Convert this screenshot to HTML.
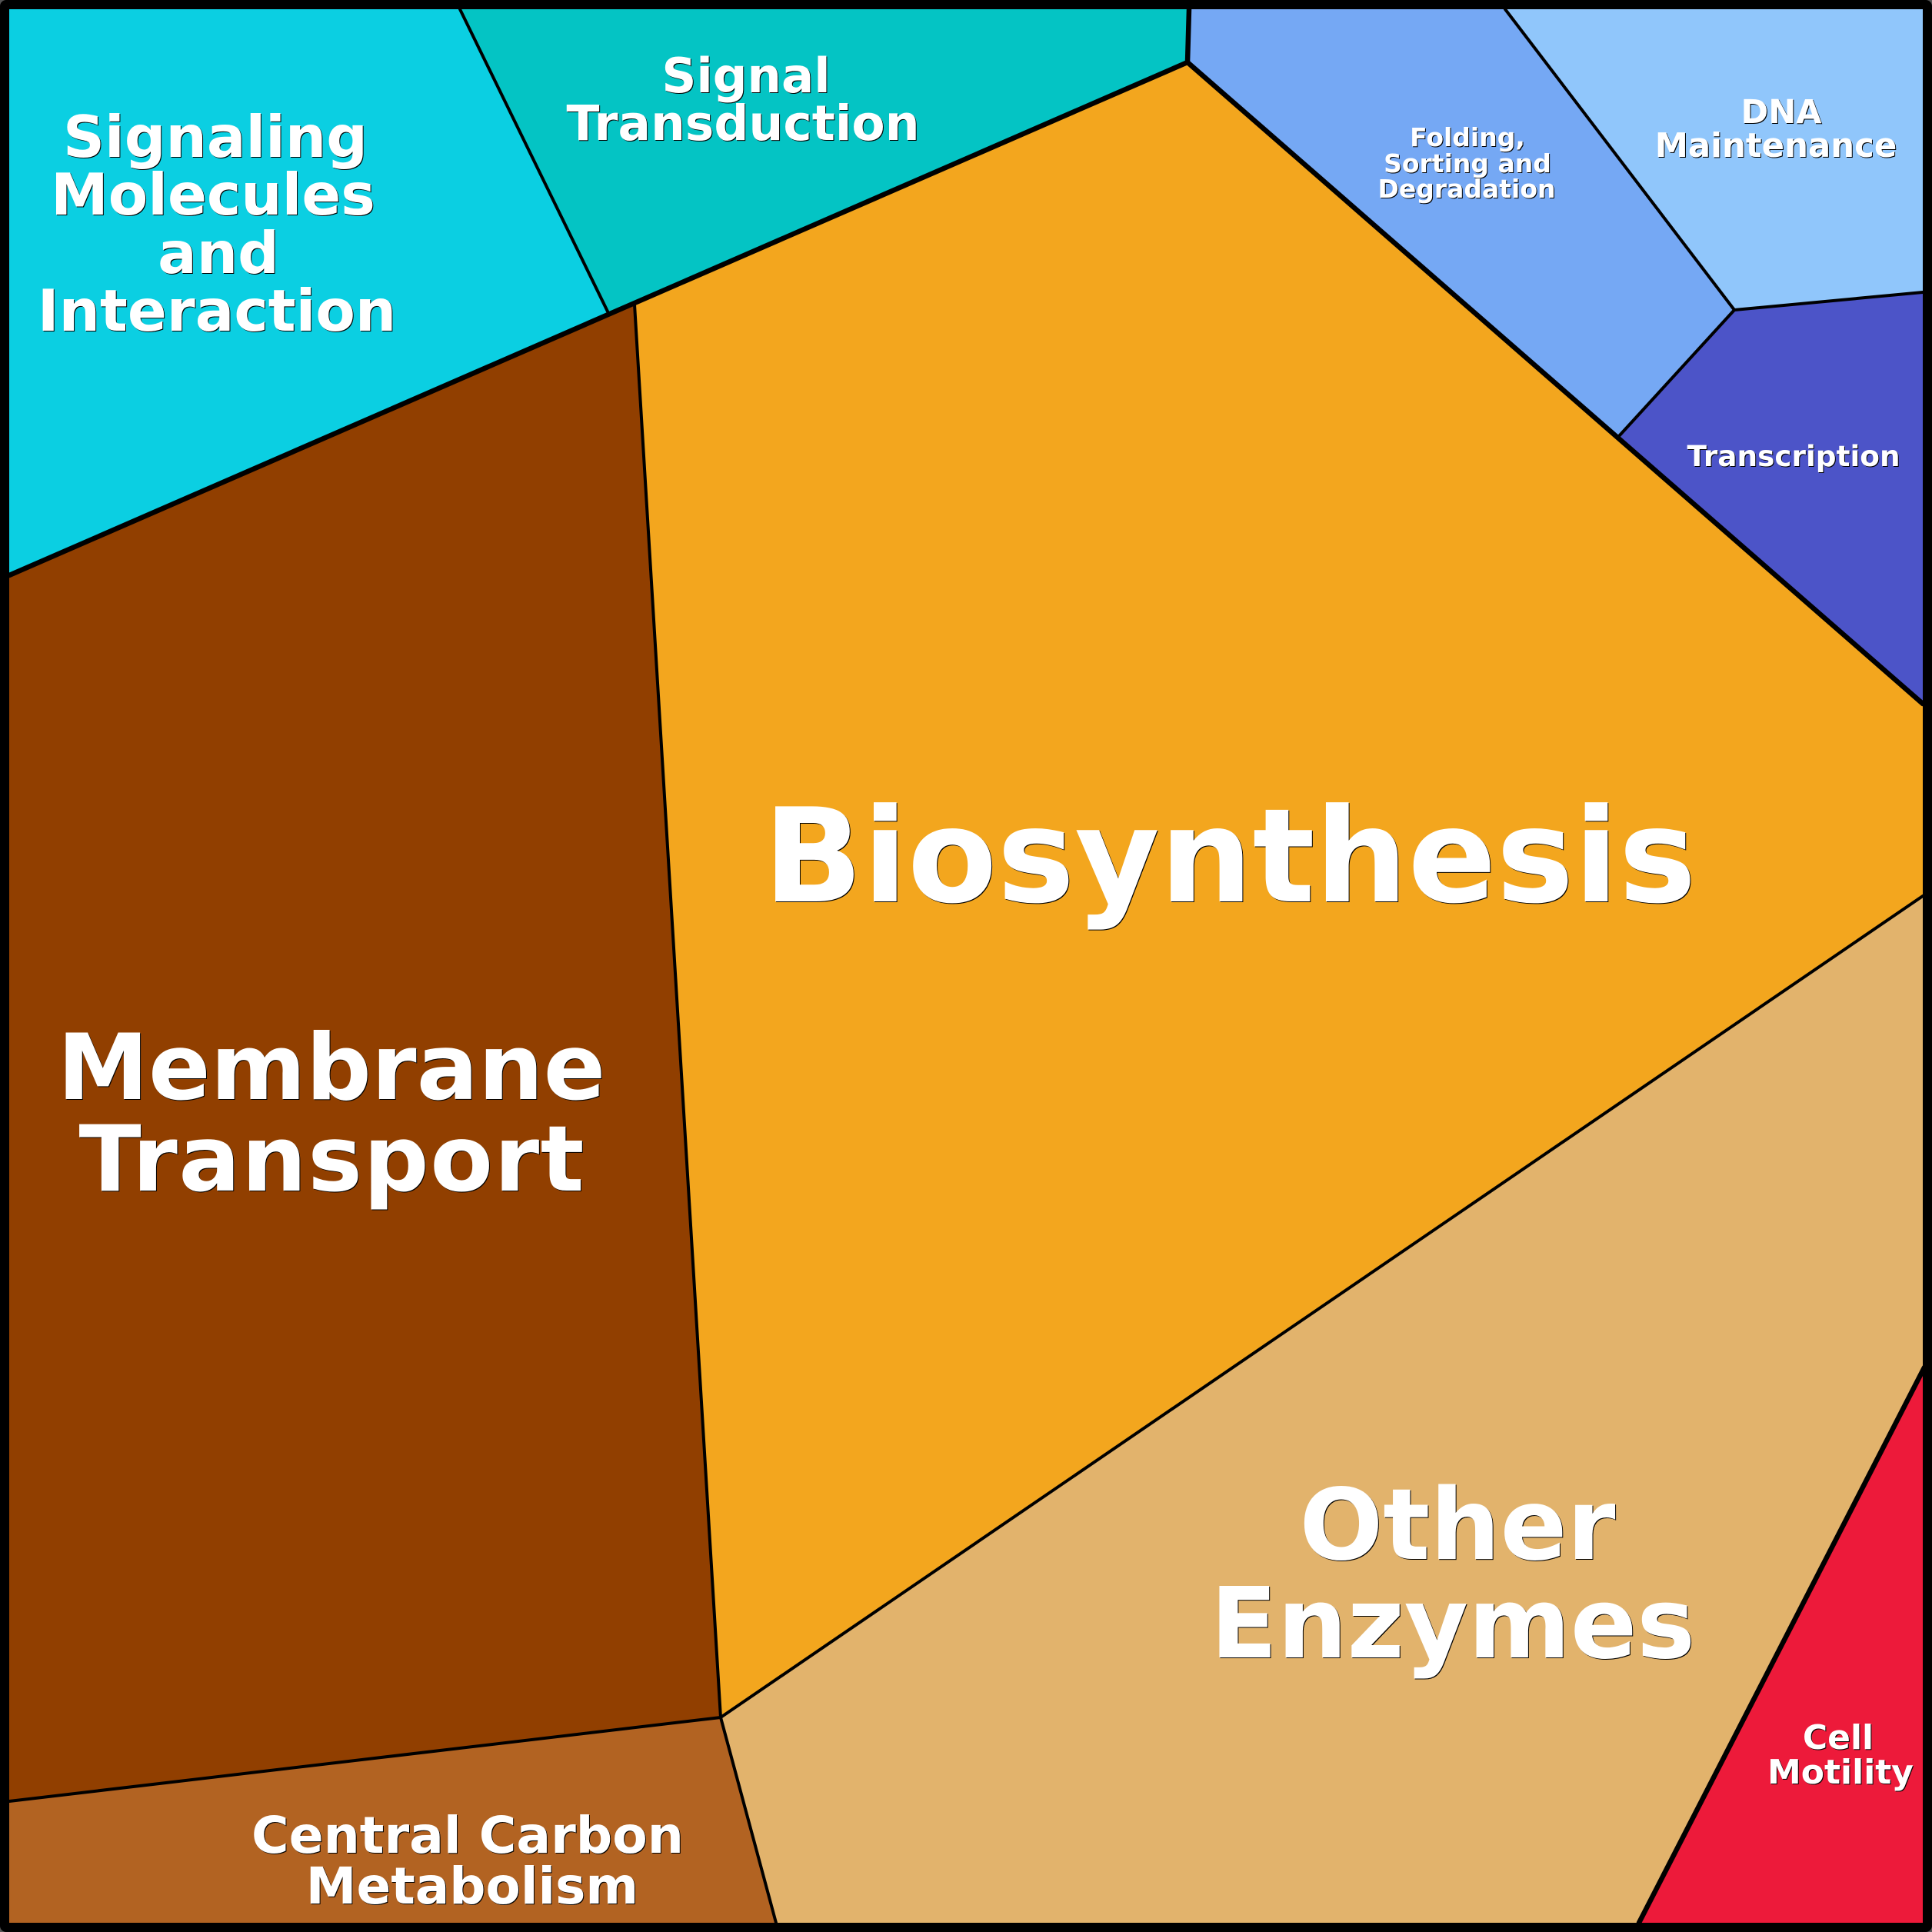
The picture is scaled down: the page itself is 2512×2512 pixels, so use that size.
<!DOCTYPE html>
<html><head><meta charset="utf-8"><style>
html,body{margin:0;padding:0;background:#555;width:2512px;height:2512px;overflow:hidden}
svg{display:block}
text{font-family:"DejaVu Sans",sans-serif;font-weight:700;fill:#fff;text-anchor:middle}
.t{filter:drop-shadow(1.5px 1.5px 0 #000)}
</style></head><body>
<svg width="2512" height="2512" viewBox="0 0 2512 2512" xmlns="http://www.w3.org/2000/svg">
<rect x="0" y="0" width="2512" height="2512" rx="8" fill="#000"/>
<g stroke="none">
<polygon points="12,12 598,12 791,407 12,748" fill="#0bcfe2"/>
<polygon points="598,12 1546,12 1544,81 791,407" fill="#04c4c4"/>
<polygon points="1546,12 1957,12 2255,403 2105,567 1544,81" fill="#75a8f4"/>
<polygon points="1957,12 2500,12 2500,380 2255,403" fill="#90c6fb"/>
<polygon points="2255,403 2500,380 2500,915 2105,567" fill="#4c54c8"/>
<polygon points="825,396 1544,81 2500,915 2500,1165 937,2233" fill="#f3a61e"/>
<polygon points="12,748 825,396 937,2233 12,2342" fill="#913f00"/>
<polygon points="12,2342 937,2233 1009,2500 12,2500" fill="#b26322"/>
<polygon points="937,2233 2500,1165 2500,1778 2131,2500 1009,2500" fill="#e2b36c"/>
<polygon points="2500,1778 2500,2500 2131,2500" fill="#ed1a3a"/>
</g>
<g stroke="#000" stroke-width="4" fill="none" stroke-linecap="round" stroke-linejoin="round">
<path d="M598,12 L791,407"/>
<path d="M825,396 L937,2233 L12,2342"/>
<path d="M937,2233 L2500,1165"/>
<path d="M937,2233 L1009,2500"/>
<path d="M1957,12 L2255,403 L2500,380"/>
<path d="M2255,403 L2105,567"/>
</g>
<g stroke="#000" stroke-width="6.5" fill="none" stroke-linecap="round" stroke-linejoin="round">
<path d="M12,748 L1544,81 L2500,915"/>
<path d="M1546,12 L1544,81"/>
<path d="M2131,2500 L2502,1778"/>
</g>
<g class="t">
<text x="1599" y="1172" font-size="169.6">Biosynthesis</text>
<text x="431" y="1429" font-size="119">Membrane</text>
<text x="431" y="1548" font-size="119" textLength="657">Transport</text>
<text x="1895" y="2027" font-size="128">Other</text>
<text x="1889" y="2155" font-size="127.5">Enzymes</text>
<text x="280" y="204" font-size="75">Signaling</text>
<text x="277" y="279" font-size="75">Molecules</text>
<text x="284" y="355" font-size="75">and</text>
<text x="282" y="430" font-size="75">Interaction</text>
<text x="970" y="120" font-size="62.5">Signal</text>
<text x="966" y="182" font-size="63">Transduction</text>
<text x="608" y="2409" font-size="66.3">Central Carbon</text>
<text x="614" y="2475" font-size="66">Metabolism</text>
<text x="1908" y="190" font-size="33">Folding,</text>
<text x="1908" y="224" font-size="33">Sorting and</text>
<text x="1907" y="257" font-size="33">Degradation</text>
<text x="2316" y="160" font-size="43">DNA</text>
<text x="2309" y="204" font-size="43.4">Maintenance</text>
<text x="2332" y="606" font-size="37.4">Transcription</text>
<text x="2390" y="2274" font-size="44">Cell</text>
<text x="2393" y="2319" font-size="44">Motility</text>
</g>
</svg>
</body></html>
